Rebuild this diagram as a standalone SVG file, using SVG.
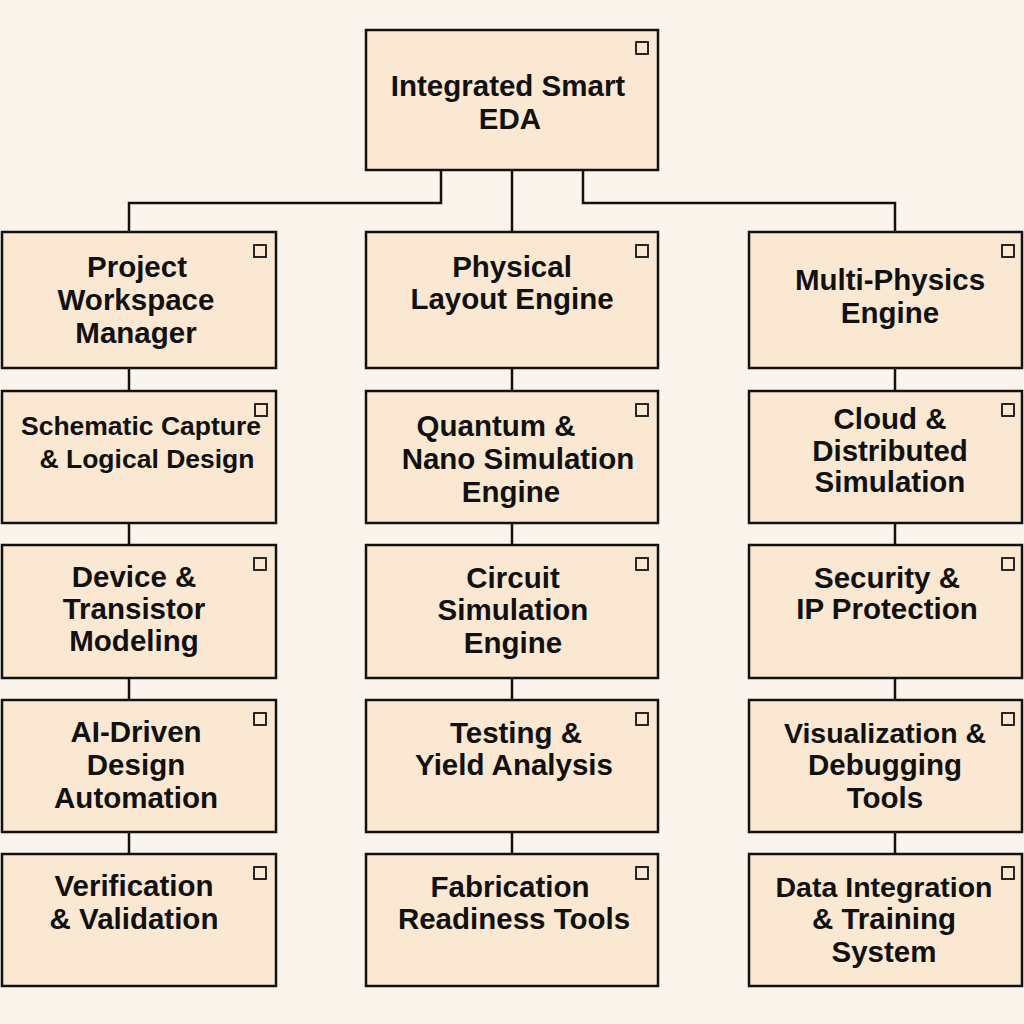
<svg xmlns="http://www.w3.org/2000/svg" width="1024" height="1024" viewBox="0 0 1024 1024">
<style>
.box{fill:#FAE8D2;stroke:#111;stroke-width:2.5}
.sq{fill:none;stroke:#111;stroke-width:1.8}
.t{font-family:"Liberation Sans",Arial,sans-serif;font-weight:bold;font-size:29.5px;fill:#111;text-anchor:middle}
.s{font-size:26.5px}
.m{font-size:28.5px}
.c{fill:none;stroke:#111;stroke-width:2.5}
</style>
<rect width="1024" height="1024" fill="#FAF4EC"/>
<g id="connectors">
<path class="c" d="M441 170V203H129V232"/>
<path class="c" d="M512 170V232"/>
<path class="c" d="M583 170V203H895V232"/>
<path class="c" d="M129 368V391M129 523V545M129 678V700M129 832V854"/>
<path class="c" d="M512 368V391M512 523V545M512 678V700M512 832V854"/>
<path class="c" d="M895 368V391M895 523V545M895 678V700M895 832V854"/>
</g>
<g id="root"><rect class="box" x="366" y="30" width="292" height="140"/><rect class="sq" x="636" y="42" width="12" height="12"/><text class="t" x="508" y="96">Integrated Smart</text><text class="t" x="510" y="129">EDA</text></g>

<g id="project"><rect class="box" x="2" y="232" width="274" height="136"/><rect class="sq" x="254" y="245" width="12" height="12"/><text class="t" x="137" y="277">Project</text><text class="t" x="136" y="310">Workspace</text><text class="t" x="136" y="343">Manager</text></g>
<g id="schematic"><rect class="box" x="2" y="391" width="274" height="132"/><rect class="sq" x="255" y="404" width="12" height="12"/><text class="t s" x="141" y="435">Schematic Capture</text><text class="t s" x="147" y="468">&amp; Logical Design</text></g>
<g id="device"><rect class="box" x="2" y="545" width="274" height="133"/><rect class="sq" x="254" y="558" width="12" height="12"/><text class="t" x="134" y="587">Device &amp;</text><text class="t" x="134" y="619">Transistor</text><text class="t" x="134" y="651">Modeling</text></g>
<g id="ai"><rect class="box" x="2" y="700" width="274" height="132"/><rect class="sq" x="254" y="713" width="12" height="12"/><text class="t" x="136" y="742">AI-Driven</text><text class="t" x="136" y="775">Design</text><text class="t" x="136" y="808">Automation</text></g>
<g id="verification"><rect class="box" x="2" y="854" width="274" height="132"/><rect class="sq" x="254" y="867" width="12" height="12"/><text class="t" x="134" y="896">Verification</text><text class="t" x="134" y="929">&amp; Validation</text></g>

<g id="physical"><rect class="box" x="366" y="232" width="292" height="136"/><rect class="sq" x="636" y="245" width="12" height="12"/><text class="t" x="512" y="277">Physical</text><text class="t" x="512" y="309">Layout Engine</text></g>
<g id="quantum"><rect class="box" x="366" y="391" width="292" height="132"/><rect class="sq" x="636" y="404" width="12" height="12"/><text class="t" x="496" y="436">Quantum &amp;</text><text class="t" x="518" y="469">Nano Simulation</text><text class="t" x="511" y="502">Engine</text></g>
<g id="circuit"><rect class="box" x="366" y="545" width="292" height="133"/><rect class="sq" x="636" y="558" width="12" height="12"/><text class="t" x="513" y="588">Circuit</text><text class="t" x="513" y="620">Simulation</text><text class="t" x="513" y="653">Engine</text></g>
<g id="testing"><rect class="box" x="366" y="700" width="292" height="132"/><rect class="sq" x="636" y="713" width="12" height="12"/><text class="t" x="516" y="743">Testing &amp;</text><text class="t" x="514" y="775">Yield Analysis</text></g>
<g id="fabrication"><rect class="box" x="366" y="854" width="292" height="132"/><rect class="sq" x="636" y="867" width="12" height="12"/><text class="t" x="510" y="897">Fabrication</text><text class="t" x="514" y="929">Readiness Tools</text></g>

<g id="multiphysics"><rect class="box" x="749" y="232" width="273" height="136"/><rect class="sq" x="1002" y="245" width="12" height="12"/><text class="t" x="890" y="290">Multi-Physics</text><text class="t" x="890" y="323">Engine</text></g>
<g id="cloud"><rect class="box" x="749" y="391" width="273" height="132"/><rect class="sq" x="1002" y="404" width="12" height="12"/><text class="t" x="890" y="429">Cloud &amp;</text><text class="t" x="890" y="461">Distributed</text><text class="t" x="890" y="492">Simulation</text></g>
<g id="security"><rect class="box" x="749" y="545" width="273" height="133"/><rect class="sq" x="1002" y="558" width="12" height="12"/><text class="t" x="887" y="588">Security &amp;</text><text class="t" x="887" y="619">IP Protection</text></g>
<g id="visualization"><rect class="box" x="749" y="700" width="273" height="132"/><rect class="sq" x="1002" y="713" width="12" height="12"/><text class="t m" x="885" y="743">Visualization &amp;</text><text class="t" x="885" y="775">Debugging</text><text class="t" x="885" y="808">Tools</text></g>
<g id="data"><rect class="box" x="749" y="854" width="273" height="132"/><rect class="sq" x="1002" y="867" width="12" height="12"/><text class="t m" x="884" y="897">Data Integration</text><text class="t" x="884" y="929">&amp; Training</text><text class="t" x="884" y="962">System</text></g>
</svg>
